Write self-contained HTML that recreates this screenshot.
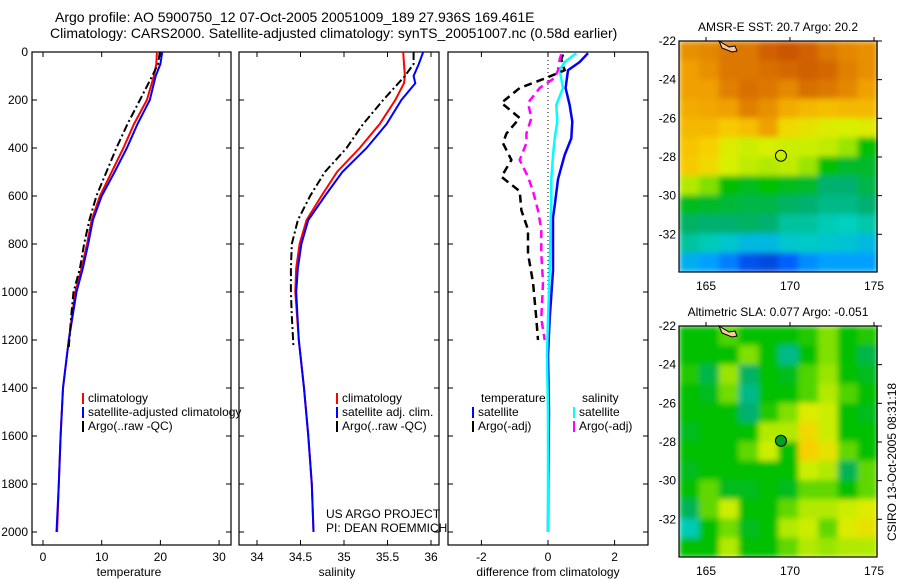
<!DOCTYPE html>
<html><head><meta charset="utf-8">
<style>
body{margin:0;background:#fff;}
svg{display:block;font-family:"Liberation Sans",sans-serif;}
text{fill:#000;}
</style></head><body>
<svg id="c" width="900" height="580" xmlns="http://www.w3.org/2000/svg">
<text x="55" y="22" font-size="14">Argo profile: AO 5900750_12 07-Oct-2005 20051009_189 27.936S 169.461E</text>
<text x="50" y="38" font-size="14">Climatology: CARS2000. Satellite-adjusted climatology: synTS_20051007.nc (0.58d earlier)</text>
<g id="g"></g>
</svg>
<script>
// ---- data ----
const tDepth=[0,50,100,200,300,400,500,600,700,800,900,1000,1200,1400,1600,1800,2000];
const tClim=[19.4,19.3,18.9,17.7,15.5,13.7,11.7,9.7,8.3,7.5,6.6,5.5,4.4,3.4,3.0,2.7,2.4];
const tSat=[20.3,20.0,19.2,18.2,16.1,14.3,12.2,10.0,8.5,7.7,6.8,5.7,4.4,3.4,3.0,2.7,2.3];
const argoDepth=[0,50,100,200,300,400,500,600,700,800,900,1000,1100,1230];
const tArgo=[19.9,19.6,18.6,16.5,14.4,12.5,10.8,9.1,7.9,7.0,6.3,5.2,4.8,4.4];
const sDepth=[0,50,100,130,200,300,400,500,600,700,800,900,1000,1200,1400,1600,1800,2000];
const sClim=[35.68,35.69,35.70,35.69,35.59,35.41,35.18,34.92,34.74,34.57,34.49,34.45,34.44,34.48,34.54,34.59,34.63,34.65];
const sSat=[35.91,35.86,35.80,35.82,35.66,35.49,35.26,34.98,34.78,34.59,34.51,34.47,34.45,34.48,34.54,34.59,34.63,34.65];
const sArgo=[35.8,35.8,35.7,35.45,35.22,35.03,34.78,34.61,34.47,34.40,34.39,34.39,34.40,34.42];
const dDepth=[5,42,76,150,220,290,360,430,530,640,690,910,1110,1265,1500,1800,2000];
const dTSat=[1.2,0.95,0.6,0.53,0.65,0.73,0.7,0.5,0.3,0.2,0.15,0.15,0.05,0.0,0.03,0.01,0.0];
const dSSat=[0.85,0.5,0.35,0.45,0.25,0.28,0.2,0.15,0.1,0.1,0.08,0.05,0.0,-0.03,0.0,0.0,0.0];
const dArgoDepth=[10,30,76,108,150,212,275,340,380,450,520,580,660,740,840,960,1110,1200];
const dTArgo=[0.45,0.4,0.5,-0.05,-0.85,-1.4,-0.85,-1.25,-1.35,-1.1,-1.4,-0.85,-0.8,-0.6,-0.6,-0.45,-0.35,-0.3];
const dSArgo=[0.4,0.35,0.3,0.2,-0.25,-0.6,-0.5,-0.65,-0.65,-0.85,-0.6,-0.45,-0.3,-0.2,-0.2,-0.15,-0.2,-0.1];
const depthTicks=[0,200,400,600,800,1000,1200,1400,1600,1800,2000];
const tTicks=[0,10,20,30];
const sTicks=[34,34.5,35,35.5,36];
const dTicks=[-2,0,2];
const latTicks=[-22,-24,-26,-28,-30,-32];
const lonTicks=[165,170,175];
const sstGrid=[
[.82,.83,.85,.85,.88,.9,.88,.85,.83,.82],
[.8,.82,.85,.85,.86,.87,.88,.87,.84,.82],
[.8,.8,.84,.86,.85,.83,.86,.85,.83,.8],
[.78,.79,.8,.84,.82,.78,.76,.75,.76,.76],
[.76,.76,.73,.75,.8,.7,.68,.66,.65,.66],
[.74,.72,.66,.64,.65,.64,.64,.63,.6,.5],
[.73,.7,.65,.63,.62,.63,.6,.5,.47,.47],
[.62,.58,.5,.48,.5,.48,.47,.42,.42,.45],
[.48,.47,.46,.45,.45,.43,.42,.4,.4,.42],
[.43,.42,.42,.43,.42,.38,.38,.36,.35,.37],
[.38,.36,.33,.3,.3,.33,.34,.33,.32,.3],
[.28,.25,.2,.12,.1,.15,.22,.25,.25,.25]];
const slaGrid=[
[.5,.5,.55,.5,.5,.5,.52,.58,.5,.52],
[.5,.5,.5,.58,.5,.4,.5,.58,.5,.45],
[.52,.45,.6,.43,.5,.48,.55,.6,.5,.48],
[.5,.48,.57,.4,.5,.5,.55,.62,.55,.5],
[.5,.5,.5,.42,.52,.58,.66,.64,.5,.48],
[.48,.5,.5,.5,.62,.62,.7,.64,.5,.5],
[.5,.5,.5,.56,.64,.5,.72,.68,.56,.5],
[.48,.5,.5,.5,.5,.5,.64,.62,.44,.56],
[.5,.56,.48,.48,.5,.48,.56,.56,.5,.56],
[.44,.56,.64,.5,.5,.56,.62,.62,.64,.66],
[.36,.5,.57,.48,.5,.62,.64,.56,.66,.68],
[.5,.5,.62,.5,.5,.56,.62,.6,.62,.62]];
const argoLon=169.461, argoLat=-27.936;

// ---- helpers ----
const NS="http://www.w3.org/2000/svg";
const G=document.getElementById('g');
function mk(tag,attrs,parent){const e=document.createElementNS(NS,tag);for(const k in attrs)e.setAttribute(k,attrs[k]);(parent||G).appendChild(e);return e;}
const yD=d=>52+d*0.24;
const xT=v=>43+v*5.87;
const xS=v=>257+(v-34)*87;
const xDf=v=>548+v*33.3;
function poly(xs,ds,xf,col,w,dash,name){
  const pts=xs.map((v,i)=>xf(v).toFixed(1)+','+yD(ds[i]).toFixed(1)).join(' ');
  const e=mk('polyline',{points:pts,fill:'none',stroke:col,'stroke-width':w});
  if(dash)e.setAttribute('stroke-dasharray',dash);
  
  
}
function panel(x0,x1,ticks,xf,fmt,label,lx,name,leftLabels){
  const r=mk('rect',{x:x0,y:52,width:x1-x0,height:493,fill:'none',stroke:'#000','stroke-width':1.2});
  
  
  ticks.forEach(t=>{const x=xf(t);
    mk('line',{x1:x,y1:545,x2:x,y2:540,stroke:'#000'});
    mk('line',{x1:x,y1:52,x2:x,y2:57,stroke:'#000'});
    const tx=mk('text',{x:x,y:561,'font-size':12,'text-anchor':'middle'});tx.textContent=fmt(t);
    
    
  });
  depthTicks.forEach(d=>{const y=yD(d);
    mk('line',{x1:x0,y1:y,x2:x0+5,y2:y,stroke:'#000'});
    mk('line',{x1:x1,y1:y,x2:x1-5,y2:y,stroke:'#000'});
    if(leftLabels){const tx=mk('text',{x:x0-4,y:y+4,'font-size':12,'text-anchor':'end'});tx.textContent=d;
      
      }
  });
  const l=mk('text',{x:lx,y:576,'font-size':12,'text-anchor':'middle'});l.textContent=label;
  
  
}
function legend(x,y,col,txt,name){
  if(col){mk('rect',{x:x,y:y-9,width:2,height:11,fill:col});}
  const t=mk('text',{x:x+6,y:y,'font-size':12});t.textContent=txt;
  
  
}
panel(32,231,tTicks,xT,String,'temperature',129,'temperature-panel',true);
panel(239,439,sTicks,xS,String,'salinity',337,'salinity-panel',false);
panel(448,648,dTicks,xDf,String,'difference from climatology',548,'difference-panel',false);
const defs=mk('defs',{});
const flt=mk('filter',{id:'blur',x:'0',y:'0',width:'1',height:'1'},defs);
mk('feGaussianBlur',{stdDeviation:'3',edgeMode:'duplicate'},flt);
poly(tClim,tDepth,xT,'#f00',2,null,'temperature-climatology-line');
poly(tSat,tDepth,xT,'#00f',2,null,'temperature-satellite-line');
poly(tArgo,argoDepth,xT,'#000',2,'8,3,2,3','temperature-argo-line');
poly(sClim,sDepth,xS,'#f00',2,null,'salinity-climatology-line');
poly(sSat,sDepth,xS,'#00f',2,null,'salinity-satellite-line');
poly(sArgo,argoDepth,xS,'#000',2,'8,3,2,3','salinity-argo-line');
const z=mk('line',{x1:xDf(0),y1:52,x2:xDf(0),y2:yD(1230),stroke:'#000','stroke-dasharray':'1,3'});


poly(dTSat,dDepth,xDf,'#00f',2.5,null,'diff-temperature-satellite-line');
poly(dSSat,dDepth,xDf,'#0ff',2.5,null,'diff-salinity-satellite-line');
poly(dTArgo,dArgoDepth,xDf,'#000',2.5,'8,5','diff-temperature-argo-line');
poly(dSArgo,dArgoDepth,xDf,'#f0f',2.5,'8,5','diff-salinity-argo-line');
legend(82,402,'#f00','climatology','legend-climatology');
legend(82,416,'#00f','satellite-adjusted climatology','legend-satellite-adjusted');
legend(82,430,'#000','Argo(..raw -QC)','legend-argo');
legend(336,402,'#f00','climatology','legend-sal-climatology');
legend(336,416,'#00f','satellite adj. clim.','legend-sal-satellite');
legend(336,430,'#000','Argo(..raw -QC)','legend-sal-argo');
legend(475,402,null,'temperature','legend-diff-temperature-header');
legend(472,416,'#00f','satellite','legend-diff-temp-satellite');
legend(472,430,'#000','Argo(-adj)','legend-diff-temp-argo');
legend(576,402,null,'salinity','legend-diff-salinity-header');
legend(573,416,'#0ff','satellite','legend-diff-sal-satellite');
legend(573,430,'#f0f','Argo(-adj)','legend-diff-sal-argo');
const p1=mk('text',{x:326,y:518,'font-size':12});p1.textContent='US ARGO PROJECT';


const p2=mk('text',{x:326,y:532,'font-size':12});p2.textContent='PI: DEAN ROEMMICH';



// ---- maps ----
const stops=[[0,[0,32,160]],[.15,[0,96,255]],[.25,[0,160,255]],[.35,[0,208,192]],[.42,[0,176,112]],[.5,[0,192,0]],[.58,[128,224,0]],[.65,[216,240,0]],[.72,[248,208,0]],[.8,[240,160,0]],[.88,[208,96,0]],[1,[176,24,0]]];
function cmap(v){for(let i=1;i<stops.length;i++){if(v<=stops[i][0]){const a=stops[i-1],b=stops[i],t=(v-a[0])/(b[0]-a[0]);return 'rgb('+a[1].map((c,k)=>Math.round(c+(b[1][k]-c)*t)).join(',')+')';}}return 'rgb(176,24,0)';}
function map(top,grid,title,name,filled){
  const L=679,R=877,B=top+231;
  const xL=lon=>706+(lon-165)*16.8;
  const yL=lat=>top+(-22-lat)*19.33;
  const lon0=163.4,lon1=175.2,lat0=-22,lat1=-33.95;
  const nr=grid.length,nc=grid[0].length;
  const dl=(lon1-lon0)/nc,dt=(lat0-lat1)/nr;
  const cells=mk('g',{filter:'url(#blur)'});
  
  
  grid.forEach((row,i)=>row.forEach((v,j)=>{
    const x=xL(lon0+j*dl),y=yL(lat0-i*dt);
    const r=mk('rect',{x:x.toFixed(1),y:y.toFixed(1),width:(dl*16.8+0.6).toFixed(1),height:(dt*19.33+0.6).toFixed(1),fill:cmap(v)},cells);
    
    
  }));
  const land=mk('path',{d:`M${L+40} ${top} l10 6 l6 -1 l2 5 l-5 1 l-10 -4 z`,fill:'#f8c8a0',stroke:'#000'});
  
  
  const fr=mk('rect',{x:L,y:top,width:R-L,height:B-top,fill:'none',stroke:'#000','stroke-width':1.2});
  
  
  latTicks.forEach(lat=>{const y=yL(lat);
    mk('line',{x1:R,y1:y,x2:R+5,y2:y,stroke:'#000'});
    const t=mk('text',{x:L-3,y:y+4,'font-size':12,'text-anchor':'end'});t.textContent=lat;
    
    });
  lonTicks.forEach(lon=>{const x=xL(lon);
    mk('line',{x1:x,y1:top,x2:x,y2:top-4,stroke:'#000'});
    const t=mk('text',{x:x,y:B+18,'font-size':12,'text-anchor':'middle'});t.textContent=lon;
    
    });
  const c=mk('circle',{cx:xL(argoLon),cy:yL(argoLat),r:5.5,fill:filled?'#00a020':'none',stroke:'#000'});
  
  
  const tt=mk('text',{x:778,y:top-10,'font-size':12,'text-anchor':'middle'});tt.textContent=title;
  
  
}
map(41,sstGrid,'AMSR-E SST: 20.7 Argo: 20.2','sst-map',false);
map(326,slaGrid,'Altimetric SLA: 0.077 Argo: -0.051','sla-map',true);
const cs=mk('text',{x:0,y:0,'font-size':12,'text-anchor':'middle',transform:'translate(896,462) rotate(-90)'});
cs.textContent='CSIRO 13-Oct-2005 08:31:18';


</script>
</body></html>
